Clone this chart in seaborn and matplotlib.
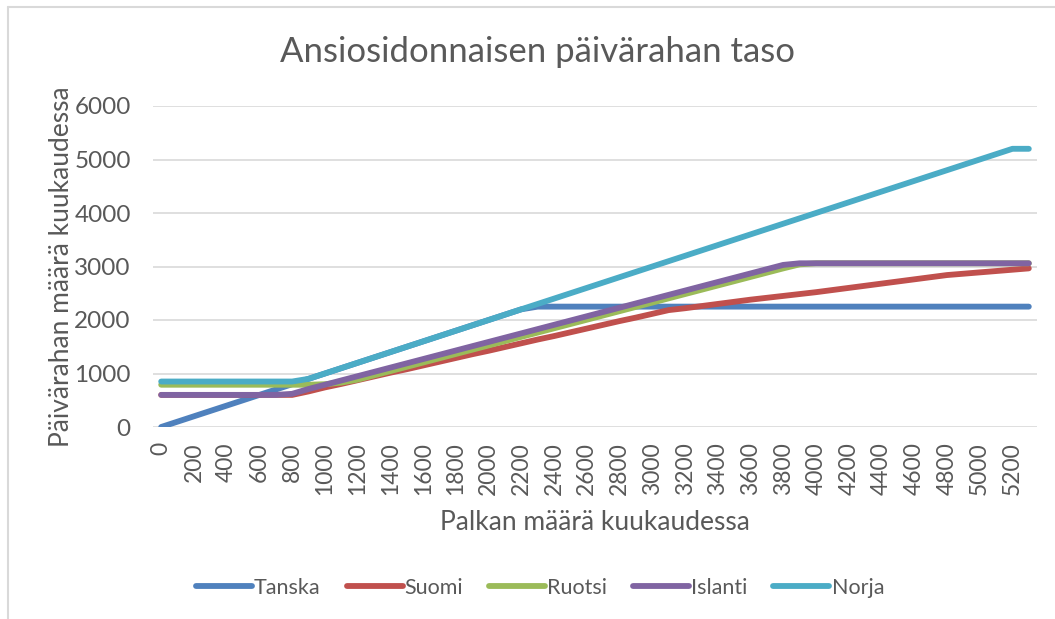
import numpy as np
import pandas as pd
import seaborn as sns
import matplotlib.pyplot as plt
from matplotlib.lines import Line2D

# palkka (x), 0..5300 step 100
palkka = list(range(0, 5400, 100))

tanska = [0, 100, 200, 300, 400, 500, 600, 700, 800, 900,
          1000, 1100, 1200, 1300, 1400, 1500, 1600, 1700, 1800, 1900,
          2000, 2100, 2200, 2250, 2250, 2250, 2250, 2250, 2250, 2250,
          2250, 2250, 2250, 2250, 2250, 2250, 2250, 2250, 2250, 2250,
          2250, 2250, 2250, 2250, 2250, 2250, 2250, 2250, 2250, 2250,
          2250, 2250, 2250, 2250]
suomi = [600, 600, 600, 600, 600, 600, 600, 600, 600, 665,
         740, 805, 875, 945, 1015, 1080, 1150, 1220, 1290, 1360,
         1425, 1495, 1565, 1635, 1700, 1770, 1840, 1910, 1980, 2045,
         2115, 2185, 2220, 2260, 2300, 2340, 2380, 2415, 2450, 2485,
         2520, 2560, 2600, 2640, 2680, 2720, 2760, 2800, 2840, 2865,
         2890, 2915, 2940, 2965]
ruotsi = [790, 790, 790, 790, 790, 790, 790, 790, 790, 790,
          800, 830, 885, 965, 1045, 1125, 1205, 1285, 1365, 1445,
          1525, 1605, 1685, 1765, 1845, 1925, 2005, 2085, 2165, 2245,
          2325, 2405, 2485, 2565, 2645, 2725, 2805, 2885, 2965, 3040,
          3060, 3060, 3060, 3060, 3060, 3060, 3060, 3060, 3060, 3060,
          3060, 3060, 3060, 3060]
islanti = [600, 600, 600, 600, 600, 600, 600, 600, 620, 710,
           790, 870, 950, 1030, 1110, 1190, 1270, 1350, 1430, 1510,
           1590, 1670, 1750, 1830, 1910, 1990, 2070, 2150, 2230, 2310,
           2390, 2470, 2550, 2630, 2710, 2790, 2870, 2950, 3030, 3060,
           3060, 3060, 3060, 3060, 3060, 3060, 3060, 3060, 3060, 3060,
           3060, 3060, 3060, 3060]
norja = [850, 850, 850, 850, 850, 850, 850, 850, 850, 900,
         1000, 1100, 1200, 1300, 1400, 1500, 1600, 1700, 1800, 1900,
         2000, 2100, 2200, 2300, 2400, 2500, 2600, 2700, 2800, 2900,
         3000, 3100, 3200, 3300, 3400, 3500, 3600, 3700, 3800, 3900,
         4000, 4100, 4200, 4300, 4400, 4500, 4600, 4700, 4800, 4900,
         5000, 5100, 5200, 5200]

maat = ["Tanska", "Suomi", "Ruotsi", "Islanti", "Norja"]
varit = ["#4F81BD", "#C0504D", "#9BBB59", "#8064A2", "#4BACC6"]

df = pd.DataFrame({"Palkka": palkka, "Tanska": tanska, "Suomi": suomi,
                   "Ruotsi": ruotsi, "Islanti": islanti, "Norja": norja})
long = df.melt(id_vars="Palkka", var_name="Maa", value_name="Paivaraha")

sns.set_theme(style="white")
plt.rcParams['font.family'] = ['Lato', 'DejaVu Sans']
txt = "#595959"

fig = plt.figure(figsize=(10.55, 6.19), dpi=100)
ax = fig.add_axes([153 / 1055, 1 - 427 / 619, (1037 - 153) / 1055, (427 - 106) / 619])

sns.lineplot(data=long, x="Palkka", y="Paivaraha", hue="Maa", hue_order=maat,
             palette=varit, linewidth=4.2, ax=ax, legend=False,
             solid_capstyle="round", solid_joinstyle="round")

ax.set_xlim(-50, 5350)
ax.set_ylim(0, 6000)
ax.set_xticks(range(0, 5400, 200))
ax.set_xticklabels([str(v) for v in range(0, 5400, 200)], rotation=90,
                   fontsize=16.5, color=txt)
ax.set_yticks(range(0, 7000, 1000))
ax.set_yticklabels([str(v) for v in range(0, 7000, 1000)], fontsize=17.5, color=txt)
ax.tick_params(axis="both", length=0)
ax.tick_params(axis="y", pad=16)
ax.tick_params(axis="x", pad=11)
ax.yaxis.grid(True, color="#D9D9D9", linewidth=1.2)
ax.set_axisbelow(True)
for s in ax.spines.values():
    s.set_visible(False)

ax.set_xlabel("Palkan määrä kuukaudessa", fontsize=19, color=txt)
ax.xaxis.set_label_coords(0.5, -0.26)
ax.set_ylabel("Päivärahan määrä kuukaudessa", fontsize=19, color=txt)
ax.yaxis.set_label_coords(-0.089, 0.5)

fig.text(537 / 1055, 1 - 52 / 619, "Ansiosidonnaisen päivärahan taso",
         ha="center", va="center", fontsize=25, color=txt)

handles = [Line2D([], [], color=c, linewidth=4.2, solid_capstyle="round") for c in varit]
fig.legend(handles, maat, loc="center", bbox_to_anchor=(540 / 1055, 1 - 588 / 619),
           ncol=5, frameon=False, fontsize=15.5, handlelength=2.6, handletextpad=0.1,
           columnspacing=1.2, labelcolor=txt)

# chart border (left and top visible)
fig.add_artist(Line2D([8 / 1055, 8 / 1055], [0, 1 - 7 / 619], color="#D9D9D9", linewidth=1.5))
fig.add_artist(Line2D([8 / 1055, 1], [1 - 7 / 619, 1 - 7 / 619], color="#D9D9D9", linewidth=1.5))

fig.savefig("out.png", dpi=100)
